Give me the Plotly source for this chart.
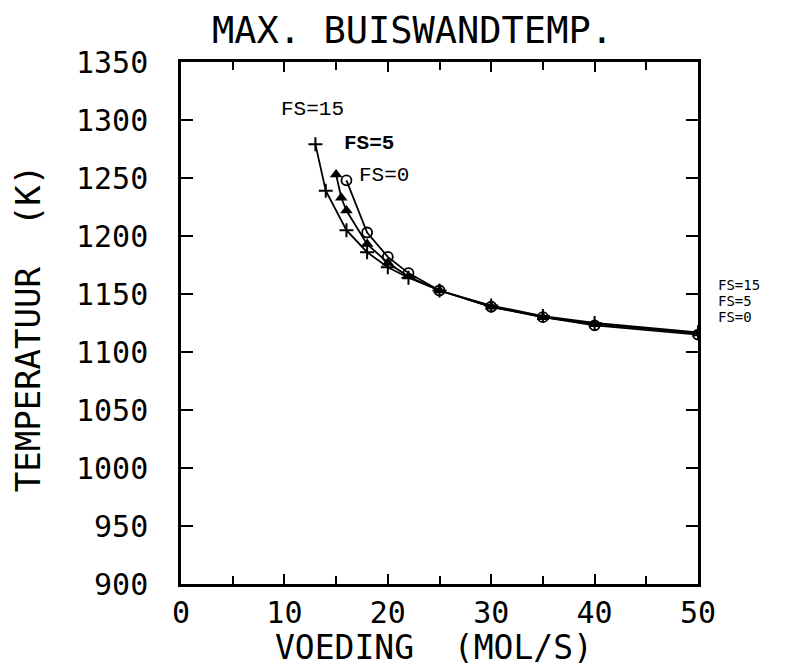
import plotly.graph_objects as go

# Data
fs15_x = [13, 14, 16, 18, 20, 22, 25, 30, 35, 40, 50]
fs15_y = [1279, 1239, 1205, 1186, 1173, 1164, 1153, 1140, 1131, 1125, 1117]
fs5_x = [15, 15.5, 16, 18, 20, 22, 25, 30, 35, 40, 50]
fs5_y = [1253, 1233, 1222, 1193, 1177, 1165, 1153, 1139, 1130, 1124, 1116]
fs0_x = [16, 18, 20, 22, 25, 30, 35, 40, 50]
fs0_y = [1248, 1203, 1182, 1168, 1153, 1139, 1130, 1123, 1115]

x_ticks = [0, 10, 20, 30, 40, 50]
y_ticks = [900, 950, 1000, 1050, 1100, 1150, 1200, 1250, 1300, 1350]

title = "MAX. BUISWANDTEMP."
x_title = "VOEDING  (MOL/S)"
y_title = "TEMPERATUUR  (K)"

PLOT_FONT = "DejaVu Sans Mono"
TYPE_FONT = "Liberation Mono"

fig = go.Figure()
fig.add_trace(go.Scatter(x=fs15_x, y=fs15_y, mode="lines+markers", name="FS=15",
                         line=dict(color="black", width=1.8),
                         marker=dict(symbol="cross-thin-open", size=10, color="black",
                                     line=dict(color="black", width=2))))
fig.add_trace(go.Scatter(x=fs5_x, y=fs5_y, mode="lines+markers", name="FS=5",
                         line=dict(color="black", width=1.8),
                         marker=dict(symbol="triangle-up", size=11, color="black")))
fig.add_trace(go.Scatter(x=fs0_x, y=fs0_y, mode="lines+markers", name="FS=0",
                         line=dict(color="black", width=1.8),
                         marker=dict(symbol="circle-open", size=10, color="black",
                                     line=dict(color="black", width=1.8))))

annotations = [
    # curve labels inside the plot (typewritten)
    dict(x=12.7, y=1309, text="FS=15", showarrow=False, xref="x", yref="y",
         font=dict(family=TYPE_FONT, size=21, color="black"), xanchor="center", yanchor="middle"),
    dict(x=18.2, y=1280, text="<b>FS=5</b>", showarrow=False, xref="x", yref="y",
         font=dict(family=TYPE_FONT, size=21, color="black"), xanchor="center", yanchor="middle"),
    dict(x=19.6, y=1252, text="FS=0", showarrow=False, xref="x", yref="y",
         font=dict(family=TYPE_FONT, size=21, color="black"), xanchor="center", yanchor="middle"),
    # right-side labels
    dict(x=1.035, y=1158, text="FS=15", showarrow=False, xref="paper", yref="y",
         font=dict(family=PLOT_FONT, size=14, color="black"), xanchor="left", yanchor="middle"),
    dict(x=1.035, y=1144, text="FS=5", showarrow=False, xref="paper", yref="y",
         font=dict(family=PLOT_FONT, size=14, color="black"), xanchor="left", yanchor="middle"),
    dict(x=1.035, y=1130, text="FS=0", showarrow=False, xref="paper", yref="y",
         font=dict(family=PLOT_FONT, size=14, color="black"), xanchor="left", yanchor="middle"),
    # title and axis titles
    dict(x=0.447, y=1.0, yshift=32, text=title, showarrow=False, xref="paper", yref="paper",
         font=dict(family=PLOT_FONT, size=37, color="black"), xanchor="center", yanchor="middle"),
    dict(x=0.49, y=0, yshift=-63, text=x_title, showarrow=False, xref="paper", yref="paper",
         font=dict(family=PLOT_FONT, size=33, color="black"), xanchor="center", yanchor="middle"),
    dict(x=0, xshift=-153, y=0.49, text=y_title, showarrow=False, xref="paper", yref="paper",
         textangle=-90,
         font=dict(family=PLOT_FONT, size=34, color="black"), xanchor="center", yanchor="middle"),
]

fig.update_layout(
    width=793, height=670,
    margin=dict(l=181, r=95, t=62, b=86),
    paper_bgcolor="white", plot_bgcolor="white",
    showlegend=False,
    annotations=annotations,
    font=dict(family=PLOT_FONT, color="black"),
)
fig.update_xaxes(
    range=[0, 50], tickvals=x_ticks, ticktext=[str(v) for v in x_ticks],
    ticks="inside", ticklen=10, tickwidth=2, tickcolor="black",
    minor=dict(dtick=5, tick0=0, ticks="inside", ticklen=8, tickwidth=2, tickcolor="black"),
    showline=True, linecolor="black", linewidth=2.5, mirror="ticks",
    showgrid=False, zeroline=False,
    tickfont=dict(family=PLOT_FONT, size=30, color="black"),
    ticklabelstandoff=0,
)
fig.update_yaxes(
    range=[900, 1350], tickvals=y_ticks, ticktext=[str(v) for v in y_ticks],
    ticks="inside", ticklen=12, tickwidth=2, tickcolor="black",
    showline=True, linecolor="black", linewidth=2.5, mirror="ticks",
    showgrid=False, zeroline=False,
    tickfont=dict(family=PLOT_FONT, size=30, color="black"),
    ticklabelstandoff=24,
)

fig.write_html("out.html")
